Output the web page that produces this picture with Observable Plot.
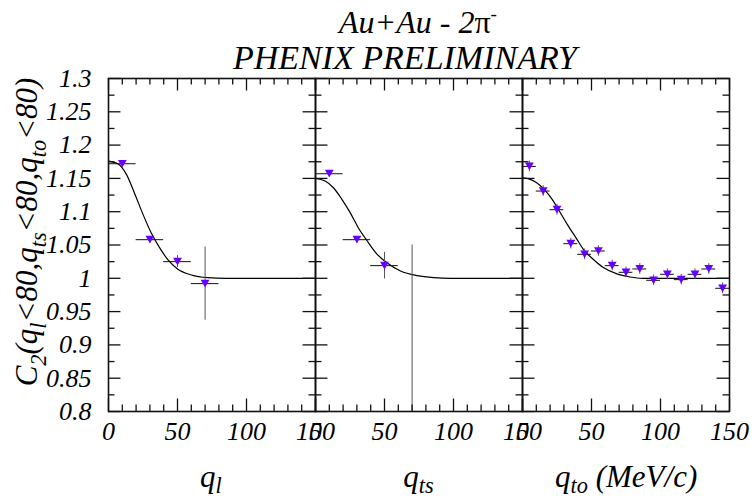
<!DOCTYPE html>
<html>
<head>
<meta charset="utf-8">
<script src="https://cdn.jsdelivr.net/npm/d3@7"></script>
<script src="https://cdn.jsdelivr.net/npm/@observablehq/plot@0.6"></script>
<style>
  html, body { margin: 0; padding: 0; background: #fff; }
  #chart svg { display: block; }
</style>
</head>
<body>
<div id="chart"></div>
<script>
// ---------- data ----------
const panels = ["l", "ts", "to"];

// panel 1 : q_l
const lQ   = [10, 30, 50, 70];
const lC   = [1.172, 1.058, 1.025, 0.992];
const lErr = [0.004, 0.005, 0.009, 0.055];
const lBin = [10, 10, 10, 10];

// panel 2 : q_ts
const tsQ   = [10, 30, 50, 70];
const tsC   = [1.157, 1.058, 1.019, 0.76];
const tsErr = [0.004, 0.005, 0.02, 0.29];
const tsBin = [10, 10, 10, 10];

// panel 3 : q_to
const toQ   = [5, 15, 25, 35, 45, 55, 65, 75, 85, 95, 105, 115, 125, 135, 145];
const toC   = [1.168, 1.131, 1.103, 1.052, 1.036, 1.041, 1.019, 1.009, 1.014, 0.997, 1.006, 0.998, 1.006, 1.014, 0.985];
const toErr = [0.008, 0.008, 0.008, 0.008, 0.008, 0.008, 0.008, 0.008, 0.008, 0.008, 0.008, 0.008, 0.008, 0.008, 0.008];
const toBin = [5, 5, 5, 5, 5, 5, 5, 5, 5, 5, 5, 5, 5, 5, 5];

// fit curves
const lFitQ  = [0, 7, 13, 19, 25, 31, 37, 43, 50, 60, 72, 85, 100, 150];
const lFitC  = [1.176, 1.1715, 1.156, 1.127, 1.096, 1.068, 1.046, 1.028, 1.014, 1.005, 1.001, 1.0, 1.0, 1.0];
const tsFitQ = [0, 7, 13, 19, 25, 31, 37.5, 44.7, 52, 61.6, 73.7, 85.7, 98, 150];
const tsFitC = [1.150, 1.146, 1.136, 1.119, 1.099, 1.076, 1.056, 1.036, 1.023, 1.011, 1.004, 1.001, 1.0, 1.0];
const toFitQ = [0, 5, 10, 15, 21, 27, 33, 39, 45, 51, 58, 68, 78, 87, 150];
const toFitC = [1.151, 1.149, 1.144, 1.135, 1.120, 1.100, 1.079, 1.060, 1.041, 1.029, 1.017, 1.007, 1.002, 1.0, 1.0];

// ticks
const yMajor = [0.8, 0.85, 0.9, 0.95, 1, 1.05, 1.1, 1.15, 1.2, 1.25, 1.3];
const yMinor = [0.825, 0.875, 0.925, 0.975, 1.025, 1.075, 1.125, 1.175, 1.225, 1.275];
const xMajor = [0, 50, 100, 150];
const xMinor = [10, 20, 30, 40, 60, 70, 80, 90, 110, 120, 130, 140];

// ---------- tables ----------
function pts(panel, Q, C, E, B) {
  return Q.map((q, i) => ({panel, q, c: C[i], e: E[i], dq: B[i]}));
}
function fit(panel, Q, C) {
  return Q.map((q, i) => ({panel, q, c: C[i]}));
}
const points = [
  ...pts("l", lQ, lC, lErr, lBin),
  ...pts("ts", tsQ, tsC, tsErr, tsBin),
  ...pts("to", toQ, toC, toErr, toBin)
];
const fits = [
  ...fit("l", lFitQ, lFitC),
  ...fit("ts", tsFitQ, tsFitC),
  ...fit("to", toFitQ, toFitC)
];

// ---------- layout & style ----------
const W = 752, H = 501, ML = 107, MR = 22, MT = 78, MB = 90;
const FAMILY = '"Liberation Serif", "Times New Roman", serif';
const markerColor = "#6600ff";
const xDom = [0, 150], yDom = [0.8, 1.3];
const panelW = (W - ML - MR) / 3;
const panelH = H - MT - MB;
const bigTick = 12.5, smallTick = 6.5;
const tickColor = "#111", tickWidth = 1.3;
const kx = (xDom[1] - xDom[0]) / panelW, ky = (yDom[1] - yDom[0]) / panelH;

// one row per panel, tick value and side, with its inward length in data units
const tickRowsX = [];
const tickRowsY = [];
for (const panel of panels) {
  for (const [vals, len] of [[xMajor, bigTick], [xMinor, smallTick]]) {
    for (const v of vals) {
      tickRowsX.push({panel, v, a: yDom[0], b: yDom[0] + len * ky, len, side: "bottom"});
      tickRowsX.push({panel, v, a: yDom[1], b: yDom[1] - len * ky, len, side: "top"});
    }
  }
  for (const [vals, len] of [[yMajor, bigTick], [yMinor, smallTick]]) {
    for (const v of vals) {
      tickRowsY.push({panel, v, a: xDom[0], b: xDom[0] + len * kx, len, side: "left"});
      tickRowsY.push({panel, v, a: xDom[1], b: xDom[1] - len * kx, len, side: "right"});
    }
  }
}

const triDown = {
  draw(ctx, size) {
    const r = Math.sqrt(size / Math.PI);
    const w = 1.05 * r, h = 0.92 * r;
    ctx.moveTo(-w, -h);
    ctx.lineTo(w, -h);
    ctx.lineTo(0, h);
    ctx.closePath();
  }
};

const plot = Plot.plot({
  width: W, height: H,
  marginLeft: ML, marginRight: MR, marginTop: MT, marginBottom: MB,
  style: {fontFamily: FAMILY, background: "#fff", overflow: "visible"},
  fx: {domain: panels, padding: 0, axis: null},
  x: {domain: xDom},
  y: {domain: yDom},
  marks: [
    // tick labels
    Plot.axisY({anchor: "left", ticks: yMajor, tickSize: 0, tickPadding: 17, label: null, facetAnchor: "left",
      tickFormat: d => String(d), fontSize: 26, fontStyle: "italic", fill: "#000"}),
    Plot.axisX({anchor: "bottom", ticks: xMajor, tickSize: 0, tickPadding: 10, label: null, facetAnchor: null,
      tickFormat: d => String(d), fontSize: 26, fontStyle: "italic", fill: "#000"}),
    // fit curves
    Plot.line(fits, {fx: "panel", x: "q", y: "c", stroke: "#000", strokeWidth: 1.2, curve: "monotone-x", clip: true}),
    // error bars
    Plot.ruleY(points, {fx: "panel", y: "c", x1: d => d.q - d.dq, x2: d => d.q + d.dq, stroke: "#111", strokeWidth: 1, clip: true}),
    Plot.ruleX(points, {fx: "panel", x: "q", y1: d => d.c - d.e, y2: d => d.c + d.e, stroke: "#555", strokeWidth: 1, clip: true}),
    // markers
    Plot.dot(points, {fx: "panel", x: "q", y: "c", symbol: triDown, r: 4.2, fill: markerColor, stroke: "none", clip: true}),
    // panel frames
    Plot.frame({stroke: "#111", strokeWidth: 1.6}),
    // inward ticks on all four sides of every panel
    Plot.ruleX(tickRowsX, {fx: "panel", x: d => d.v, y1: d => d.a, y2: d => d.b, stroke: tickColor, strokeWidth: tickWidth}),
    Plot.ruleY(tickRowsY, {fx: "panel", y: d => d.v, x1: d => d.a, x2: d => d.b, stroke: tickColor, strokeWidth: tickWidth})
  ]
});

document.getElementById("chart").appendChild(plot);
const svg = d3.select(plot);

// fallback: if the tick rules did not come out, draw them from Plot's own scales
(function ensureTicks() {
  const expected = points.length * 2 + tickRowsX.length + tickRowsY.length;
  const drawn = plot.querySelectorAll('g[aria-label="rule"] line').length;
  if (drawn >= expected) return;
  const xs = plot.scale("x"), ys = plot.scale("y");
  const svgBox = plot.getBoundingClientRect();
  const frames = Array.from(plot.querySelectorAll('g[aria-label="frame"] rect'));
  if (frames.length < panels.length) return;
  const boxes = frames.map(r => r.getBoundingClientRect()).sort((a, b) => a.left - b.left)
    .map(b => ({left: b.left - svgBox.left, top: b.top - svgBox.top, right: b.right - svgBox.left, bottom: b.bottom - svgBox.top}));
  const g = svg.append("g").attr("stroke", tickColor).attr("stroke-width", tickWidth);
  const xr0 = Math.min(...xs.range);
  for (const d of tickRowsX) {
    const box = boxes[panels.indexOf(d.panel)];
    const px = box.left + (xs.apply(d.v) - xr0);
    const py = d.side === "bottom" ? box.bottom : box.top;
    const dir = d.side === "bottom" ? -1 : 1;
    g.append("line").attr("x1", px).attr("x2", px).attr("y1", py).attr("y2", py + dir * d.len);
  }
  for (const d of tickRowsY) {
    const box = boxes[panels.indexOf(d.panel)];
    const py = ys.apply(d.v);
    const px = d.side === "left" ? box.left : box.right;
    const dir = d.side === "left" ? 1 : -1;
    g.append("line").attr("x1", px).attr("x2", px + dir * d.len).attr("y1", py).attr("y2", py);
  }
})();

// ---------- rich text labels (sub/superscripts) ----------
const panelCenter = i => ML + panelW * (i + 0.5);

function rich(x, y, size, parts, {anchor = "middle", rotate = 0, sub = 0.26} = {}) {
  const t = svg.append("text")
    .attr("transform", `translate(${x},${y}) rotate(${rotate})`)
    .attr("text-anchor", anchor)
    .style("font-family", FAMILY)
    .style("font-style", "italic")
    .style("font-size", size + "px")
    .attr("fill", "#000");
  let shift = 0;
  for (const [s, kind] of parts) {
    const sp = t.append("tspan").text(s);
    let target = 0;
    if (kind === "sub") { target = size * sub; sp.style("font-size", (size * 0.72) + "px"); }
    if (kind === "sup") { target = -size * 0.42; sp.style("font-size", (size * 0.6) + "px").style("font-style", "normal"); }
    if (kind === "up") { sp.style("font-style", "normal"); }
    if (target !== shift) { sp.attr("dy", target - shift); shift = target; }
  }
  return t;
}

// titles
rich(418, 33, 32, [["Au+Au - 2", "n"], ["π", "up"], ["-", "sup"]]);
rich(405, 69, 34, [["PHENIX PRELIMINARY", "n"]]);

// y axis title
rich(37, 232, 31, [
  ["C", "n"], ["2", "sub"], ["(q", "n"], ["l", "sub"], ["<80,q", "n"], ["ts", "sub"],
  ["<80,q", "n"], ["to", "sub"], ["<80)", "n"]
], {rotate: -90, sub: 0.3});

// x axis titles
rich(panelCenter(0), 487, 31, [["q", "n"], ["l", "sub"]], {sub: 0.2});
rich(panelCenter(1), 487, 31, [["q", "n"], ["ts", "sub"]], {sub: 0.2});
rich(panelCenter(2), 487, 31, [["q", "n"], ["to", "sub"], [" (MeV/c)", "n"]], {sub: 0.2});

// make sure every text uses the serif face
svg.selectAll("text").style("font-family", FAMILY);
</script>
</body>
</html>
